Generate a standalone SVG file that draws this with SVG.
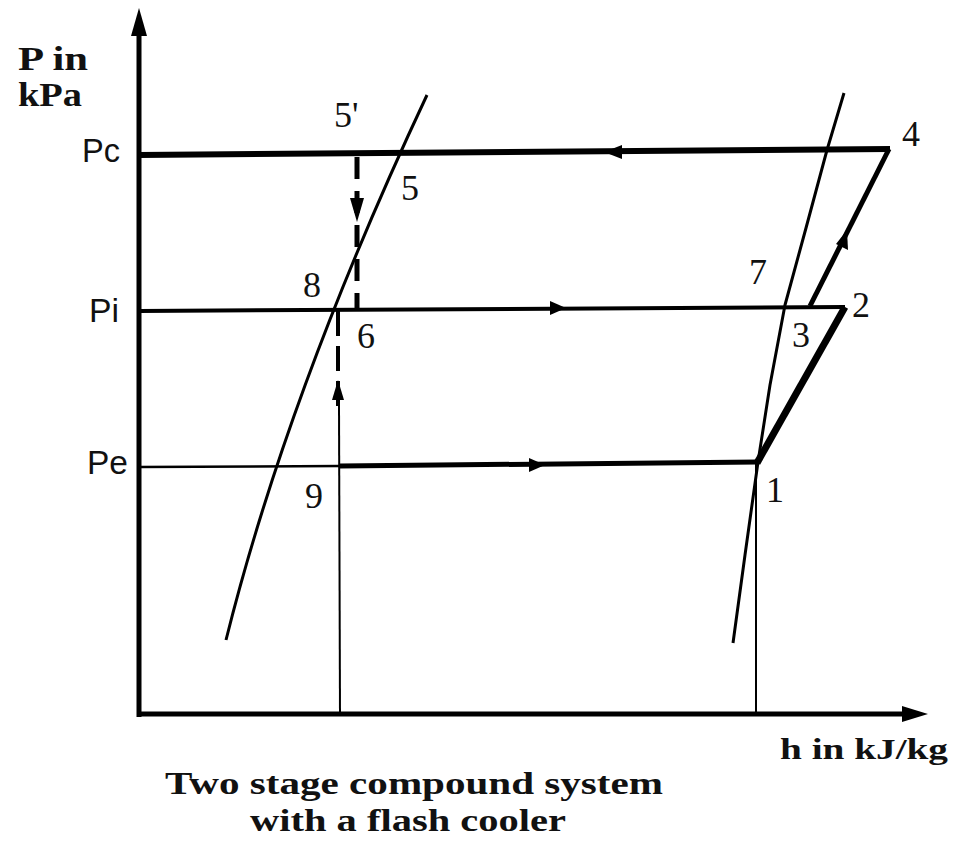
<svg xmlns="http://www.w3.org/2000/svg" width="955" height="841" viewBox="0 0 955 841">
<style>
.ln{stroke:#000;fill:none;stroke-linecap:butt}
.sans{font-family:"Liberation Sans",Arial,sans-serif;font-size:34px;fill:#111}
.num{font-family:"Liberation Serif","Times New Roman",serif;font-size:36px;fill:#111}
.bold{font-family:"Liberation Serif","Times New Roman",serif;font-weight:bold;fill:#111}
.ah{fill:#000}
</style>
<rect width="955" height="841" fill="#fff"/>
<g id="connectors">
<!-- axes -->
<line class="ln" x1="139" y1="30" x2="139" y2="717" stroke-width="5"/>
<polygon class="ah" points="139,8 131,36 147,36"/>
<line class="ln" x1="137" y1="714" x2="905" y2="714" stroke-width="5"/>
<polygon class="ah" points="928,714 902,706 902,722"/>
<!-- saturation curves -->
<path class="ln" stroke-width="3" d="M427,95 C342.4,275 271,460 226,640"/>
<polyline class="ln" stroke-width="3" stroke-linejoin="round" points="844,93 827,150 806,228 785,305 770,385 758,462 745,555 733,643"/>
<!-- pressure lines -->
<line class="ln" x1="139" y1="155" x2="890" y2="149" stroke-width="6"/>
<line class="ln" x1="139" y1="311" x2="845" y2="307" stroke-width="4"/>
<line class="ln" x1="139" y1="467" x2="340" y2="466" stroke-width="2.5"/>
<line class="ln" x1="340" y1="466" x2="758" y2="462" stroke-width="5"/>
<!-- compression 1-2 and 3-4 -->
<line class="ln" x1="757" y1="463" x2="845" y2="307" stroke-width="7"/>
<line class="ln" x1="810" y1="306" x2="889" y2="149" stroke-width="5"/>
<!-- vertical expansion lines -->
<line class="ln" x1="357" y1="157" x2="357" y2="311" stroke-width="5" stroke-dasharray="22,12"/>
<line class="ln" x1="338" y1="311" x2="338" y2="410" stroke-width="4" stroke-dasharray="25,10"/>
<line class="ln" x1="339" y1="405" x2="340" y2="714" stroke-width="2"/>
<line class="ln" x1="756" y1="462" x2="756" y2="714" stroke-width="2"/>
<!-- arrowheads -->
<polygon class="ah" points="357,222 350,198 364,198"/>
<polygon class="ah" points="338,380 332,400 344,400"/>
<polygon class="ah" points="604,152 622,145 622,159"/>
<polygon class="ah" points="566,308 550,301 550,315"/>
<polygon class="ah" points="545,465 529,458 529,472"/>
<polygon class="ah" points="847,230 848,250 836,244"/>
</g>
<g id="axis-p"><text class="bold" x="18" y="70" font-size="34" textLength="70" lengthAdjust="spacingAndGlyphs">P in</text><text class="bold" x="18" y="106" font-size="34" textLength="64" lengthAdjust="spacingAndGlyphs">kPa</text></g>
<g id="axis-h"><text class="bold" x="780" y="759" font-size="30" textLength="168" lengthAdjust="spacingAndGlyphs">h in kJ/kg</text></g>
<g id="label-pc"><text class="sans" x="82" y="162" font-size="36" textLength="38" lengthAdjust="spacingAndGlyphs">Pc</text></g>
<g id="label-pi"><text class="sans" x="89" y="322" font-size="36" textLength="30" lengthAdjust="spacingAndGlyphs">Pi</text></g>
<g id="label-pe"><text class="sans" x="87" y="474" font-size="36" textLength="41" lengthAdjust="spacingAndGlyphs">Pe</text></g>
<g id="pt-5p"><text class="num" x="334" y="127">5'</text></g>
<g id="pt-5"><text class="num" x="401" y="200">5</text></g>
<g id="pt-8"><text class="num" x="303" y="297">8</text></g>
<g id="pt-6"><text class="num" x="357" y="348">6</text></g>
<g id="pt-9"><text class="num" x="305" y="508">9</text></g>
<g id="pt-7"><text class="num" x="749" y="284">7</text></g>
<g id="pt-3"><text class="num" x="792" y="347">3</text></g>
<g id="pt-2"><text class="num" x="852" y="317">2</text></g>
<g id="pt-4"><text class="num" x="902" y="146">4</text></g>
<g id="pt-1"><text class="num" x="766" y="502">1</text></g>
<g id="caption">
<text class="bold" x="414" y="794" font-size="32" text-anchor="middle" textLength="498" lengthAdjust="spacingAndGlyphs">Two stage compound system</text>
<text class="bold" x="408" y="831" font-size="32" text-anchor="middle" textLength="316" lengthAdjust="spacingAndGlyphs">with a flash cooler</text>
</g>
</svg>
